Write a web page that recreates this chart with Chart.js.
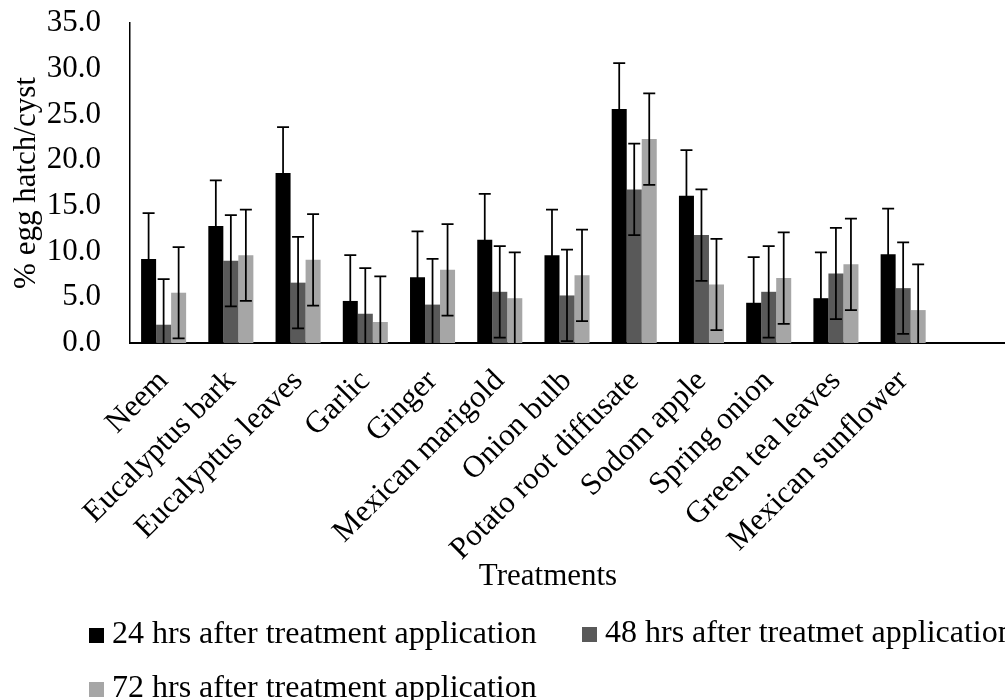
<!DOCTYPE html>
<html>
<head>
<meta charset="utf-8">
<script src="https://cdn.jsdelivr.net/npm/chart.js@4"></script>
<style>
  html, body { margin: 0; padding: 0; background: #fff; }
  #wrap { width: 1005px; height: 700px; }
</style>
</head>
<body>
<div id="wrap"><canvas id="hatch-chart" width="1005" height="700"></canvas></div>
<script>
// Treatments (last slot left empty on purpose)
const treatments = ['Neem', 'Eucalyptus bark', 'Eucalyptus leaves', 'Garlic', 'Ginger',
  'Mexican marigold', 'Onion bulb', 'Potato root diffusate', 'Sodom apple',
  'Spring onion', 'Green tea leaves', 'Mexican sunflower', ''];

const hatch24 = [9.2, 12.8, 18.6, 4.6, 7.2, 11.3, 9.6, 25.6, 16.1, 4.4, 4.9, 9.7, null];
const hatch48 = [2.0, 9.0, 6.6, 3.2, 4.2, 5.6, 5.2, 16.8, 11.8, 5.6, 7.6, 6.0, null];
const hatch72 = [5.5, 9.6, 9.1, 2.3, 8.0, 4.9, 7.4, 22.3, 6.4, 7.1, 8.6, 3.6, null];

// error bar half-lengths (same for every bar)
const err24 = [5, 5, 5, 5, 5, 5, 5, 5, 5, 5, 5, 5, null];
const err48 = [5, 5, 5, 5, 5, 5, 5, 5, 5, 5, 5, 5, null];
const err72 = [5, 5, 5, 5, 5, 5, 5, 5, 5, 5, 5, 5, null];

const seriesNames = ['24 hrs after treatment application',
  '48 hrs after treatmet application',
  '72 hrs after treatment application'];
const yTicks = [0, 5, 10, 15, 20, 25, 30, 35];

const FONT = '"Liberation Serif", "Times New Roman", serif';
const FS = 31;

// whiskers with caps, clipped to the plot area
const errorBars = {
  id: 'errorBars',
  afterDatasetsDraw(chart) {
    const { ctx, chartArea, scales } = chart;
    ctx.save();
    ctx.beginPath();
    ctx.rect(chartArea.left, chartArea.top - 2, chartArea.right - chartArea.left, chartArea.bottom - chartArea.top + 2);
    ctx.clip();
    ctx.strokeStyle = '#000';
    ctx.lineWidth = 1.75;
    chart.data.datasets.forEach((ds, i) => {
      const meta = chart.getDatasetMeta(i);
      meta.data.forEach((bar, j) => {
        const v = ds.data[j], e = ds.errors[j];
        if (v == null || e == null) return;
        const yTop = scales.y.getPixelForValue(v + e);
        const yBot = scales.y.getPixelForValue(v - e);
        const x = bar.x, cap = 6;
        ctx.beginPath();
        ctx.moveTo(x, yTop); ctx.lineTo(x, yBot);
        ctx.moveTo(x - cap, yTop); ctx.lineTo(x + cap, yTop);
        ctx.moveTo(x - cap, yBot); ctx.lineTo(x + cap, yBot);
        ctx.stroke();
      });
    });
    ctx.restore();
  }
};

// axis title under the labels and the two-row legend
const extras = {
  id: 'extras',
  afterDraw(chart) {
    const ctx = chart.ctx;
    ctx.save();
    ctx.font = FS + 'px ' + FONT;
    ctx.fillStyle = '#000';
    ctx.textBaseline = 'alphabetic';
    ctx.textAlign = 'center';
    ctx.fillText('Treatments', 548, 585);

    ctx.font = '32px ' + FONT;
    ctx.textAlign = 'left';
    const items = [
      { x: 89, y: 643, i: 0 },
      { x: 582, y: 642, i: 1 },
      { x: 89, y: 697, i: 2 }
    ];
    items.forEach(it => {
      const ds = chart.data.datasets[it.i];
      ctx.fillStyle = ds.backgroundColor;
      ctx.fillRect(it.x, it.y - 15, 15, 15);
      ctx.fillStyle = '#000';
      ctx.fillText(ds.label, it.x + 23, it.y);
    });
    ctx.restore();
  }
};

new Chart(document.getElementById('hatch-chart'), {
  type: 'bar',
  data: {
    labels: treatments,
    datasets: [
      { label: seriesNames[0], data: hatch24, errors: err24, backgroundColor: '#000000' },
      { label: seriesNames[1], data: hatch48, errors: err48, backgroundColor: '#595959' },
      { label: seriesNames[2], data: hatch72, errors: err72, backgroundColor: '#a6a6a6' }
    ]
  },
  options: {
    responsive: false,
    animation: false,
    layout: { padding: { left: 0, top: 23, right: 1, bottom: 105 } },
    datasets: { bar: { categoryPercentage: 0.67, barPercentage: 1 } },
    plugins: {
      legend: { display: false },
      tooltip: { enabled: false }
    },
    scales: {
      x: {
        z: 1,
        grid: { display: false },
        border: { display: true, color: '#000', width: 2 },
        ticks: {
          color: '#000',
          font: { family: FONT, size: FS },
          minRotation: 45,
          maxRotation: 45,
          autoSkip: false,
          padding: 12
        },
        afterFit(scale) {
          scale.height = 252;
          scale.paddingLeft = 0;
          scale.paddingRight = 0;
        }
      },
      y: {
        min: 0,
        max: 35,
        afterBuildTicks(scale) { scale.ticks = yTicks.map(v => ({ value: v })); },
        grid: { display: false },
        border: { display: true, color: '#000', width: 1.5 },
        ticks: {
          color: '#000',
          font: { family: FONT, size: FS },
          padding: 21,
          callback: v => v.toFixed(1)
        },
        title: {
          display: true,
          text: '% egg hatch/cyst',
          color: '#000',
          font: { family: FONT, size: FS },
          padding: { top: 8, bottom: 0 }
        },
        afterFit(scale) {
          scale.width = 130;
          scale.paddingTop = 0;
          scale.paddingBottom = 0;
        }
      }
    }
  },
  plugins: [errorBars, extras]
});
</script>
</body>
</html>
